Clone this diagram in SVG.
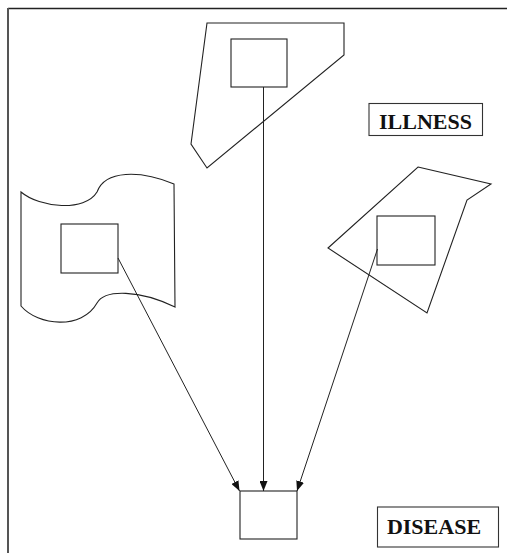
<svg xmlns="http://www.w3.org/2000/svg" width="507" height="553" viewBox="0 0 507 553">
<style>
.shape{fill:none;stroke:#222;stroke-width:1.1}
.box{fill:#fff;stroke:#222;stroke-width:1.1}
.lbl{fill:#fff;stroke:#333;stroke-width:1.1}
.txt{font-family:"Liberation Serif","Times New Roman",serif;font-weight:bold;font-size:22px;fill:#111;text-anchor:middle}
.conn{fill:none;stroke:#222;stroke-width:1}
</style>
<defs>
<marker id="ah" markerUnits="userSpaceOnUse" markerWidth="10" markerHeight="8" refX="10" refY="4" orient="auto">
<path d="M0,0 L10,4 L0,8 Z" fill="#111"/>
</marker>
</defs>
<rect width="507" height="553" fill="#fff"/>
<g id="frame">
<line x1="8" y1="8.5" x2="507" y2="8.5" stroke="#222" stroke-width="1.5"/>
<line x1="8" y1="8" x2="8" y2="553" stroke="#555" stroke-width="2"/>
</g>
<g id="top-shape">
<polygon class="shape" points="207,23 344,23 344,55 207,168 191,144"/>
<rect class="box" x="231" y="39" width="56" height="48"/>
</g>
<g id="left-shape">
<path class="shape" d="M21,192 C40,208 85,212 97,192 C105,170 140,170 174,184 L175,307 C140,290 105,289 97,303 C82,330 38,326 21,306 Z"/>
<rect class="box" x="61" y="224" width="57" height="49"/>
</g>
<g id="right-shape">
<polygon class="shape" points="418,167 491,184 467,200 427,313 328,248"/>
<rect class="box" x="377" y="216" width="58" height="49"/>
</g>
<g id="disease-node">
<rect class="box" x="240" y="491" width="57" height="48"/>
</g>
<g id="illness-label">
<rect class="lbl" x="369" y="103.5" width="113.5" height="32"/>
<text class="txt" x="425.5" y="128.5">ILLNESS</text>
</g>
<g id="disease-label">
<rect class="lbl" x="377.5" y="507" width="121" height="40"/>
<text class="txt" x="434" y="533.5">DISEASE</text>
</g>
<g id="connectors">
<line class="conn" x1="118" y1="258" x2="239.5" y2="491" marker-end="url(#ah)"/>
<line class="conn" x1="263.5" y1="87" x2="263.5" y2="491" marker-end="url(#ah)"/>
<line class="conn" x1="377.5" y1="249" x2="297" y2="491" marker-end="url(#ah)"/>
</g>
</svg>
